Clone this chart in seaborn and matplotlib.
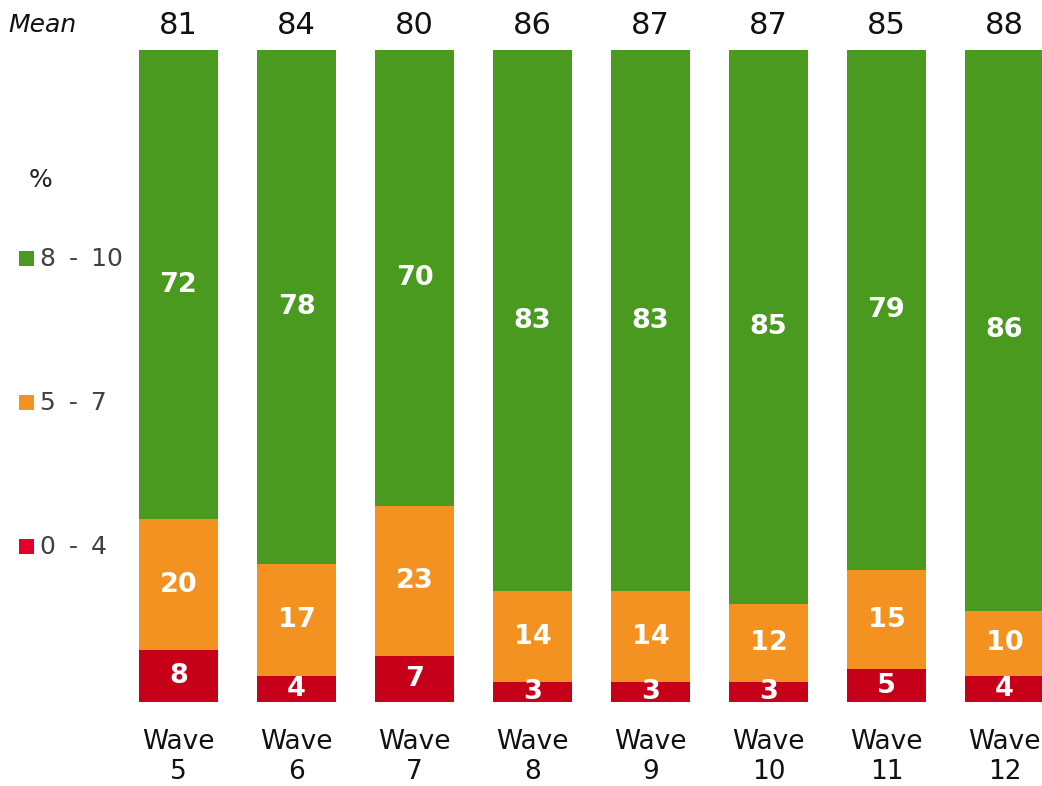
import matplotlib
matplotlib.use("Agg")
import matplotlib.pyplot as plt
from matplotlib.patches import Rectangle
from matplotlib.transforms import blended_transform_factory
import numpy as np
import pandas as pd
import seaborn as sns

# Survey waves and score bands (% of respondents)
waves = ["5", "6", "7", "8", "9", "10", "11", "12"]
low_0_4 = [8, 4, 7, 3, 3, 3, 5, 4]
mid_5_7 = [20, 17, 23, 14, 14, 12, 15, 10]
high_8_10 = [72, 78, 70, 83, 83, 85, 79, 86]
mean_scores = [81, 84, 80, 86, 87, 87, 85, 88]

band_labels = ["8 - 10", "5 - 7", "0 - 4"]
bar_colors = {"8 - 10": "#4A9A20", "5 - 7": "#F39220", "0 - 4": "#C7001A"}
key_colors = {"8 - 10": "#4A9A20", "5 - 7": "#F39220", "0 - 4": "#E4002B"}

sns.set_theme(style="white")
plt.rcParams["font.family"] = ["DejaVu Sans"]

df = pd.DataFrame({"wave": waves, "low": low_0_4, "mid": mid_5_7, "high": high_8_10})
total = df[["low", "mid", "high"]].sum(axis=1)
# 100% stacked shares
df["low_s"] = df["low"] / total * 100
df["mid_s"] = df["mid"] / total * 100
df["high_s"] = df["high"] / total * 100
df["cum_low"] = df["low_s"]
df["cum_mid"] = df["low_s"] + df["mid_s"]
df["cum_high"] = df["cum_mid"] + df["high_s"]

fig = plt.figure(figsize=(10.42, 7.86), dpi=100)
ax = fig.add_axes([0, 84 / 786, 1, 652 / 786])

bw = 0.67
for col, band in [("cum_high", "8 - 10"), ("cum_mid", "5 - 7"), ("cum_low", "0 - 4")]:
    sns.barplot(data=df, x="wave", y=col, order=waves, color=bar_colors[band],
                width=bw, saturation=1, ax=ax, errorbar=None, linewidth=0)

ax.set_xlim(-178.5 / 118, (1042 - 178.5) / 118)
ax.set_ylim(0, 100)
ax.axis("off")

# Segment value labels
for i in range(len(waves)):
    segs = [(df["low"][i], 0, df["cum_low"][i]),
            (df["mid"][i], df["cum_low"][i], df["cum_mid"][i]),
            (df["high"][i], df["cum_mid"][i], df["cum_high"][i])]
    for val, lo, hi in segs:
        ax.text(i, (lo + hi) / 2, f"{val}", ha="center", va="center",
                color="white", fontsize=19.5, fontweight="bold")

trans = blended_transform_factory(ax.transData, ax.transAxes)
for i, (w, m) in enumerate(zip(waves, mean_scores)):
    ax.text(i, (702 - 25) / 652, f"{m}", transform=trans, ha="center", va="center",
            fontsize=22, color="#111111", clip_on=False)
    ax.text(i, (702 - 742) / 652, "Wave", transform=trans, ha="center", va="center",
            fontsize=19, color="#111111", clip_on=False)
    ax.text(i, (702 - 772) / 652, w, transform=trans, ha="center", va="center",
            fontsize=19, color="#111111", clip_on=False)

fig.text(8 / 1042, 1 - 25 / 786, "Mean", ha="left", va="center",
         fontsize=18, fontstyle="italic", color="#111111")

# Key on the left
fig.text(40 / 1042, 1 - 180 / 786, "%", ha="center", va="center",
         fontsize=18, color="#222222")
key_y = [259, 403, 547]
for band, yy in zip(band_labels, key_y):
    fig.patches.append(Rectangle((19 / 1042, 1 - (yy + 7) / 786), 15 / 1042, 15 / 786,
                                 transform=fig.transFigure, facecolor=key_colors[band],
                                 edgecolor="none"))
    fig.text(40 / 1042, 1 - yy / 786, band.replace(" - ", "\u2009 - \u2009"),
             ha="left", va="center", fontsize=18, color="#404040")

fig.savefig("out.png", dpi=100)
